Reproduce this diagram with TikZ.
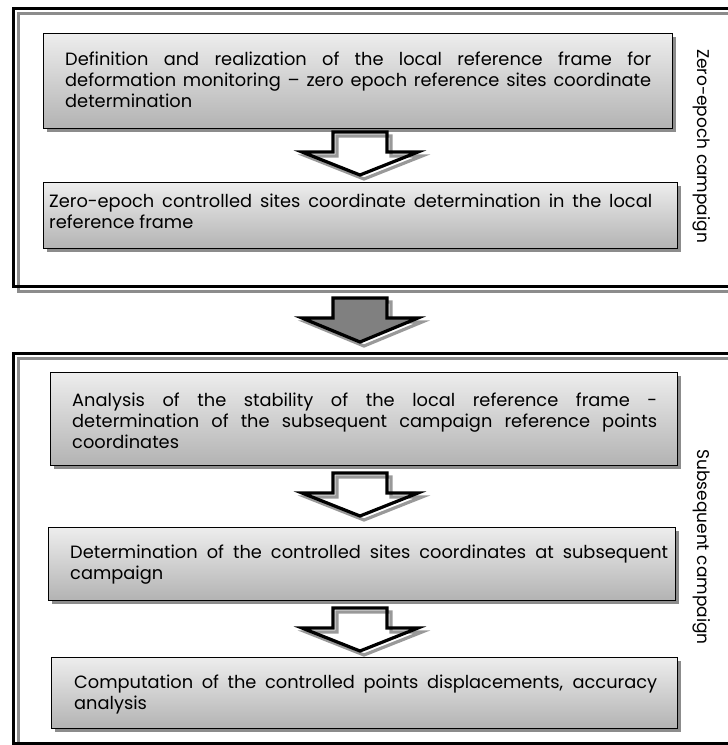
\documentclass[tikz,border=0pt]{standalone}
\usepackage{fontspec}
\setmainfont{Poppins}
\usetikzlibrary{shadows,calc}
\tikzset{
  frameline/.style={draw=black, line width=3pt},
  frameshadow/.style={draw=black!45, line width=3pt},
  stepbox/.style={draw=black, line width=1.4pt, top color=black!7, bottom color=black!30,
    inner sep=0pt, anchor=north west,
    drop shadow={shadow xshift=3pt, shadow yshift=-3pt, fill=black!45, opacity=1}},
  steptext/.style={align=justify, inner sep=0pt, anchor=west,
    font=\fontsize{17.8pt}{21pt}\selectfont},
  sidelabel/.style={rotate=-90, inner sep=0pt, font=\fontsize{17pt}{18pt}\selectfont},
  arrowline/.style={draw=black, line width=3.2pt, line join=miter},
  arrowshadow/.style={draw=black!40, line width=3.2pt, line join=miter},
  hollowarrow/.pic={
    \draw[arrowshadow] (-23,4) -- (31,4) -- (31,24) -- (62,24) -- (4,47) -- (-54,24) -- (-23,24) -- cycle;
    \draw[arrowline] (-27,0) -- (27,0) -- (27,20) -- (58,20) -- (0,43) -- (-58,20) -- (-27,20) -- cycle;
  },
  filledarrow/.pic={
    \draw[arrowshadow] (-23,4) -- (31,4) -- (31,24) -- (62,24) -- (4,48) -- (-54,24) -- (-23,24) -- cycle;
    \draw[arrowline, fill=black!50] (-27,0) -- (27,0) -- (27,20) -- (58,20) -- (0,44) -- (-58,20) -- (-27,20) -- cycle;
  }
}
\begin{document}
\begin{tikzpicture}[x=1pt, y=-1pt]
\useasboundingbox (0,0) rectangle (728,745);
\clip (0,0) rectangle (728,745);
% frames
\draw[frameshadow] (18,13) rectangle (760,291);
\draw[frameline] (13,8) rectangle (755,286);
\draw[frameshadow] (18,358) rectangle (760,760);
\draw[frameline] (13,353) rectangle (755,743);

% boxes
\node[stepbox, minimum width=629pt, minimum height=95pt] (b1) at (43,33) {};
\node[stepbox, minimum width=634pt, minimum height=66pt] (b2) at (43,182) {};
\node[stepbox, minimum width=627pt, minimum height=93pt] (b3) at (50,372) {};
\node[stepbox, minimum width=627pt, minimum height=73pt] (b4) at (48,527) {};
\node[stepbox, minimum width=626pt, minimum height=71pt] (b5) at (51,657) {};

% texts
\node[steptext, text width=586pt] (t1) at (65,80) {Definition and realization of the local reference frame for\linebreak deformation monitoring -- zero epoch reference sites coordinate\linebreak determination};
\node[steptext, text width=603pt] (t2) at (49,211) {Zero-epoch controlled sites coordinate determination in the local\linebreak reference frame};
\node[steptext, text width=585pt] (t3) at (72,421) {Analysis of the stability of the local reference frame -\linebreak determination of the subsequent campaign reference points\linebreak coordinates};
\node[steptext, text width=598pt] (t4) at (70,565) {Determination of the controlled sites coordinates at subsequent\linebreak campaign};
\node[steptext, text width=583pt] (t5) at (74,694) {Computation of the controlled points displacements, accuracy\linebreak analysis};

% side labels
\node[sidelabel] (l1) at (702,146) {Zero-epoch campaign};
\node[sidelabel] (l2) at (702,547) {Subsequent campaign};

% arrows
\path (360,132) pic {hollowarrow};
\path (360,298) pic {filledarrow};
\path (360,473) pic {hollowarrow};
\path (360,608) pic {hollowarrow};
\end{tikzpicture}
\end{document}
